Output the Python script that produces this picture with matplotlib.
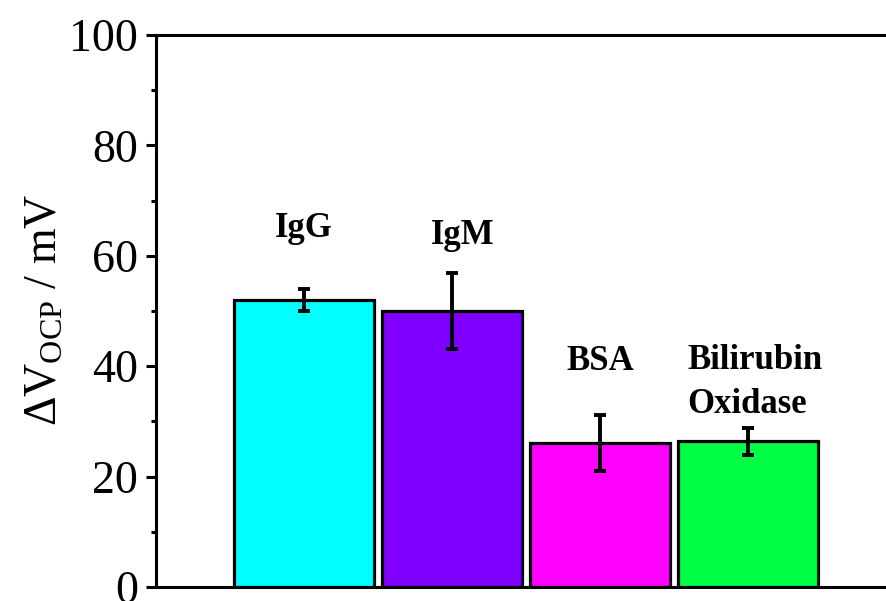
import numpy as np
import matplotlib

matplotlib.use("Agg")
import matplotlib.pyplot as plt
from matplotlib.ticker import MultipleLocator

# ── Data ─────────────────────────────────────────────────────────────────────

proteins = ["IgG", "IgM", "BSA", "Bilirubin\nOxidase"]
delta_v = [52.0, 50.0, 26.1, 26.4]
delta_v_err = [2.0, 6.9, 5.1, 2.4]
bar_colors = ["#00FFFF", "#8000FF", "#FF00FF", "#00FF44"]

# label anchor (x, baseline of last line) in data units, and alignment
label_pos = [(1.0, 63.4), (2.07, 62.1), (3.0, 39.4), (3.59, 31.5)]
label_ha = ["center", "center", "center", "left"]

# ── Style ────────────────────────────────────────────────────────────────────

plt.rcParams["font.family"] = ["Liberation Serif", "DejaVu Serif"]
plt.rcParams["mathtext.fontset"] = "custom"
plt.rcParams["mathtext.rm"] = "Liberation Serif"
plt.rcParams["mathtext.it"] = "Liberation Serif:italic"
plt.rcParams["mathtext.bf"] = "Liberation Serif:bold"

fig = plt.figure(figsize=(8.87, 6.01), dpi=100)
ax = fig.add_axes([156 / 887, 14 / 601, 740 / 887, 552 / 601])

x = np.arange(1, len(proteins) + 1)
ax.bar(x, delta_v, width=0.95, color=bar_colors, edgecolor="black",
       linewidth=2.3, zorder=2)
ax.errorbar(x, delta_v, yerr=delta_v_err, fmt="none", ecolor="black",
            elinewidth=2.8, capsize=4, capthick=2.8, zorder=3)

for name, (lx, ly), ha in zip(proteins, label_pos, label_ha):
    ax.text(lx, ly, name, ha=ha, va="baseline", fontsize=25,
            fontweight="bold", linespacing=1.45, multialignment="left")

ax.set_xlim(0, 5)
ax.set_ylim(0, 100)
ax.set_xticks([])
ax.yaxis.set_major_locator(MultipleLocator(20))
ax.yaxis.set_minor_locator(MultipleLocator(10))
ax.tick_params(axis="y", which="major", direction="out", length=7,
               width=2.2, labelsize=33, pad=6)
ax.tick_params(axis="y", which="minor", direction="out", length=3.6,
               width=2.2)
for side in ["left", "bottom", "top"]:
    ax.spines[side].set_linewidth(2.2)
ax.spines["right"].set_visible(False)

ax.set_ylabel(r"$\Delta$V$_{\mathrm{OCP}}$ / mV", fontsize=33)
ax.yaxis.set_label_coords(-0.120, 0.503)

fig.savefig("out.png", dpi=100)
